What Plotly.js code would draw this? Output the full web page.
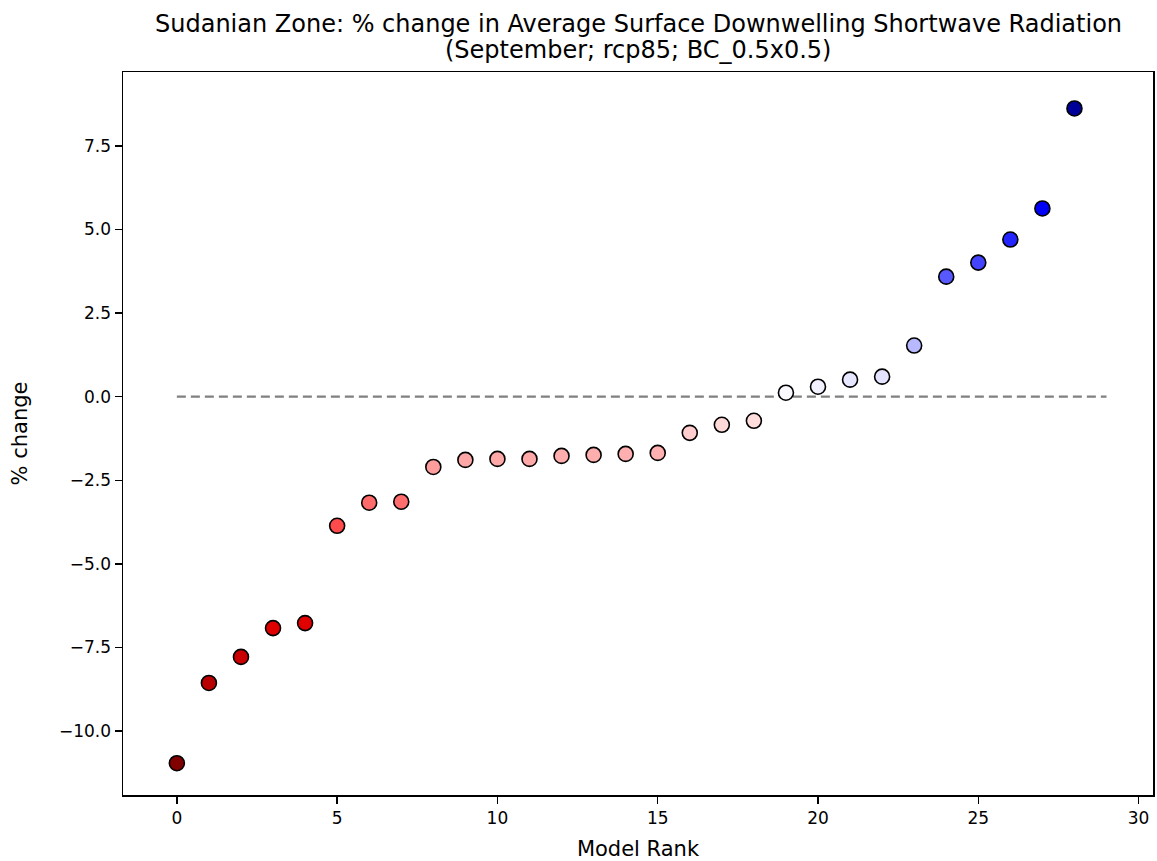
<!DOCTYPE html>
<html>
<head>
<meta charset="utf-8">
<script src="https://cdn.plot.ly/plotly-3.0.1.min.js"></script>
<style>html,body{margin:0;padding:0;background:#fff;}#chart{width:1157px;height:861px;}</style>
</head>
<body>
<div id="chart"></div>
<script>
const ranks = [0,1,2,3,4,5,6,7,8,9,10,11,12,13,14,15,16,17,18,19,20,21,22,23,24,25,26,27,28];
const pctChange = [-10.96,-8.56,-7.78,-6.92,-6.77,-3.86,-3.17,-3.14,-2.10,-1.89,-1.86,-1.86,-1.77,-1.74,-1.71,-1.68,-1.08,-0.84,-0.72,0.12,0.30,0.51,0.60,1.53,3.59,4.01,4.70,5.63,8.62];
const xTicks = [0,5,10,15,20,25,30];
const yTicks = [-10,-7.5,-5,-2.5,0,2.5,5,7.5];
const titleLines = [
  'Sudanian Zone: % change in Average Surface Downwelling Shortwave Radiation',
  '(September; rcp85; BC_0.5x0.5)'
];
const refX = [0, ranks.length];
const refY = [0, 0];

const vmax = Math.max(...pctChange.map(Math.abs));
// matplotlib 'seismic_r'
const seismicR = [
  [0.0, 'rgb(128,0,0)'],
  [0.25, 'rgb(255,0,0)'],
  [0.5, 'rgb(255,255,255)'],
  [0.75, 'rgb(0,0,255)'],
  [1.0, 'rgb(0,0,77)']
];

const font = "DejaVu Sans, sans-serif";

const traces = [
  {
    x: refX, y: refY, mode: 'lines', type: 'scatter',
    line: {color: 'rgb(128,128,128)', width: 2.2, dash: '9px,5px'},
    hoverinfo: 'skip', showlegend: false
  },
  {
    x: ranks, y: pctChange, mode: 'markers', type: 'scatter',
    marker: {
      size: 15, color: pctChange, colorscale: seismicR,
      cmin: -vmax, cmax: vmax, showscale: false,
      line: {color: 'black', width: 1.6}
    },
    showlegend: false
  }
];

const H = 861, T = 72, B = 66;
const plotH = H - T - B;
const titleCenters = [24, 50];

const layout = {
  width: 1157, height: H,
  paper_bgcolor: 'white', plot_bgcolor: 'white',
  margin: {l: 123, r: 4, t: T, b: B},
  font: {family: font, size: 17, color: 'black'},
  annotations: titleLines.map((t, i) => ({
    text: t, showarrow: false,
    xref: 'paper', yref: 'paper', x: 0.5, xanchor: 'center',
    y: (H - B - titleCenters[i]) / plotH, yanchor: 'middle',
    font: {family: font, size: 24, color: 'black'}
  })),
  xaxis: {
    range: [-1.68, 30.45],
    tickvals: xTicks, ticktext: xTicks.map(String),
    ticks: 'outside', ticklen: 7, tickwidth: 1.5, tickcolor: 'black',
    showline: true, linecolor: 'black', linewidth: 1.5, mirror: true,
    showgrid: false, zeroline: false,
    tickfont: {family: font, size: 17, color: 'black'},
    title: {text: 'Model Rank', font: {family: font, size: 21, color: 'black'}, standoff: 16}
  },
  yaxis: {
    range: [-11.91, 9.71],
    tickvals: yTicks, tickformat: '.1f',
    ticks: 'outside', ticklen: 7, tickwidth: 1.5, tickcolor: 'black',
    showline: true, linecolor: 'black', linewidth: 1.5, mirror: true,
    showgrid: false, zeroline: false,
    tickfont: {family: font, size: 17, color: 'black'},
    title: {text: '% change', font: {family: font, size: 21, color: 'black'}, standoff: 25}
  }
};

Plotly.newPlot('chart', traces, layout, {displayModeBar: false, staticPlot: true});
</script>
</body>
</html>
